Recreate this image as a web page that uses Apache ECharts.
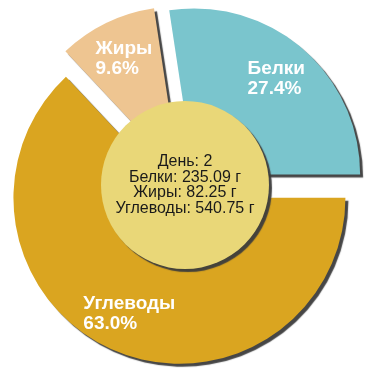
<!DOCTYPE html>
<html><head><meta charset="utf-8">
<script src="https://cdn.jsdelivr.net/npm/echarts@6/dist/echarts.min.js"></script>
<style>html,body{margin:0;padding:0;background:#fff}#c{width:370px;height:370px}</style>
</head><body><div id="c"></div>
<script>
const categories = ['Белки', 'Жиры', 'Углеводы'];
const grams = [235.09, 82.25, 540.75];
const dayLabel = 'День: 2';
const colors = ['#7AC5CD', '#EEC591', '#DAA520'];

const total = grams.reduce((a, b) => a + b, 0);
const font = "'Liberation Sans', Arial, sans-serif";
const shadow = { shadowColor: 'rgba(60,60,60,0.95)', shadowBlur: 1, shadowOffsetX: 3, shadowOffsetY: 3 };

const mainData = categories.map((c, i) => ({
  name: c, value: grams[i], selected: true,
  itemStyle: Object.assign({ color: colors[i] }, shadow),
  select: { itemStyle: Object.assign({ color: colors[i], borderWidth: 0 }, shadow) }
}));
const labelData = categories.map((c, i) => ({
  name: c, value: grams[i], selected: true
}));
const centerText = [dayLabel].concat(categories.map((c, i) => c + ': ' + grams[i] + ' г')).join('\n');

const chart = echarts.init(document.getElementById('c'), null, { renderer: 'canvas' });
chart.setOption({
  animation: false,
  series: [
    {
      type: 'pie', z: 2, center: ['50%', '50%'], radius: [0, 166],
      startAngle: 0, clockwise: false,
      selectedMode: 'multiple', selectedOffset: 14,
      silent: true,
      label: { show: false }, labelLine: { show: false },
      data: mainData
    },
    {
      type: 'pie', z: 3, center: ['50%', '50%'], radius: [0, 84],
      silent: true,
      itemStyle: Object.assign({ color: '#E9D778' }, shadow),
      label: {
        show: true, position: 'center', formatter: centerText,
        color: '#1a1a1a', fontSize: 16, lineHeight: 15.7, fontFamily: font
      },
      labelLine: { show: false },
      data: [{ name: 'center', value: 1 }]
    },
    {
      type: 'pie', z: 4, center: ['50%', '50%'], radius: [80, 166],
      startAngle: 0, clockwise: false,
      selectedMode: 'multiple', selectedOffset: 14,
      silent: true,
      itemStyle: { color: 'rgba(0,0,0,0)' },
      select: { itemStyle: { color: 'rgba(0,0,0,0)', borderWidth: 0 } },
      label: {
        show: true, position: 'inside',
        formatter: p => '{a|' + p.name + '}\n{a|' + (p.value / total * 100).toFixed(1) + '%}',
        rich: { a: { align: 'left', color: '#fff', fontSize: 19, fontWeight: 'bold', lineHeight: 20, fontFamily: font } }
      },
      labelLine: { show: false },
      data: labelData
    }
  ]
});
</script></body></html>
